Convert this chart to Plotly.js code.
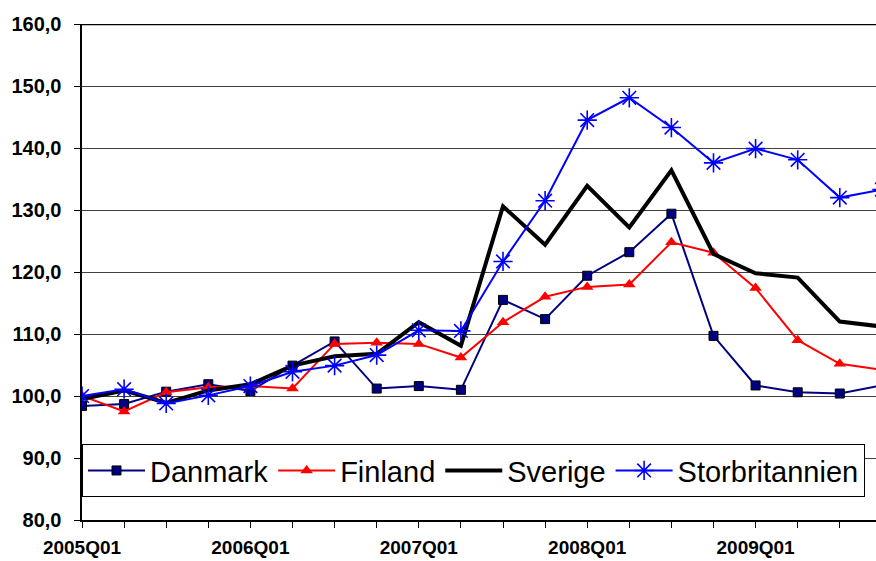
<!DOCTYPE html>
<html>
<head>
<meta charset="utf-8">
<script src="https://cdn.plot.ly/plotly-3.0.1.min.js"></script>
<style>
html,body{margin:0;padding:0;background:#fff;}
#chart{width:876px;height:561px;}
</style>
</head>
<body>
<div id="chart"></div>
<script>
var quarters = ['2005Q01','2005Q02','2005Q03','2005Q04',
                '2006Q01','2006Q02','2006Q03','2006Q04',
                '2007Q01','2007Q02','2007Q03','2007Q04',
                '2008Q01','2008Q02','2008Q03','2008Q04',
                '2009Q01','2009Q02','2009Q03','2009Q04'];
var danmark = [98.4, 98.7, 100.7, 101.9, 100.8, 104.9, 108.8, 101.2, 101.6, 101.0,
               115.5, 112.4, 119.4, 123.2, 129.4, 109.7, 101.7, 100.6, 100.4, 101.7];
var finland = [100.0, 97.5, 100.6, 101.4, 101.6, 101.2, 108.4, 108.6, 108.4, 106.2,
               111.9, 116.0, 117.6, 118.0, 124.8, 123.1, 117.4, 109.0, 105.2, 104.2];
var sverige = [99.5, 100.9, 98.9, 100.9, 101.9, 104.9, 106.4, 106.8, 111.9, 108.1,
               130.6, 124.4, 133.9, 127.2, 136.4, 122.9, 119.8, 119.1, 112.0, 111.2];
var storbritannien = [100.0, 101.1, 98.8, 100.1, 101.6, 103.9, 104.9, 106.6, 110.6, 110.5,
                      121.7, 131.5, 144.5, 148.1, 143.3, 137.6, 139.9, 138.1, 132.0, 133.3];
var yTicks = [80, 90, 100, 110, 120, 130, 140, 150, 160];
var yTickText = yTicks.map(function(v){ return v.toFixed(1).replace('.', ','); });
var xTickText = quarters.map(function(q){ return q.slice(-3) === 'Q01' ? q : ''; });

var font = 'Arial, "Liberation Sans", sans-serif';

var traces = [
  {name:'Danmark', x:quarters, y:danmark, mode:'lines+markers',
   line:{color:'#000080', width:2},
   marker:{symbol:'square', size:9, color:'#000080', line:{color:'#000000', width:1}}},
  {name:'Finland', x:quarters, y:finland, mode:'lines+markers',
   line:{color:'#ff0000', width:2},
   marker:{symbol:'triangle-up', size:11, color:'#ff0000'}},
  {name:'Sverige', x:quarters, y:sverige, mode:'lines',
   line:{color:'#000000', width:4}},
  {name:'Storbritannien', x:quarters, y:storbritannien, mode:'lines+markers',
   line:{color:'#0000ff', width:2},
   marker:{symbol:'asterisk-open', size:16, color:'#0000ff', line:{color:'#0000ff', width:1.6}}}
];

var layout = {
  width:876, height:561,
  margin:{l:82, r:0, t:24, b:41, pad:0},
  paper_bgcolor:'#ffffff', plot_bgcolor:'#ffffff',
  font:{family:font, color:'#000'},
  showlegend:true,
  legend:{orientation:'h', x:0, xanchor:'left', y:0.153, yanchor:'top',
          bgcolor:'#ffffff', bordercolor:'#000000', borderwidth:1,
          font:{family:font, size:29, color:'#000'}, itemwidth:57,
          traceorder:'normal'},
  xaxis:{type:'category', categoryorder:'array', categoryarray:quarters,
         range:[0, 18.86], autorange:false,
         tickmode:'array', tickvals:quarters, ticktext:xTickText,
         ticks:'outside', ticklen:6, tickwidth:1, tickcolor:'#000',
         showline:true, linecolor:'#000', linewidth:2, mirror:false,
         showgrid:false, zeroline:false,
         tickfont:{family:font, size:19, color:'#000', weight:'bold'},
         ticklabelstandoff:3},
  yaxis:{range:[80, 160], autorange:false,
         tickmode:'array', tickvals:yTicks, ticktext:yTickText,
         ticks:'outside', ticklen:6, tickwidth:1, tickcolor:'#000',
         showline:true, linecolor:'#000', linewidth:2.5,
         showgrid:true, gridcolor:'#404040', gridwidth:1, zeroline:false,
         tickfont:{family:font, size:20, color:'#000', weight:'bold'},
         ticklabelstandoff:8},
  shapes:[{type:'line', xref:'paper', yref:'y', x0:0, x1:1, y0:160, y1:160,
           line:{color:'#000', width:2.5}}]
};

Plotly.newPlot('chart', traces, layout, {displayModeBar:false, staticPlot:true});
</script>
</body>
</html>
